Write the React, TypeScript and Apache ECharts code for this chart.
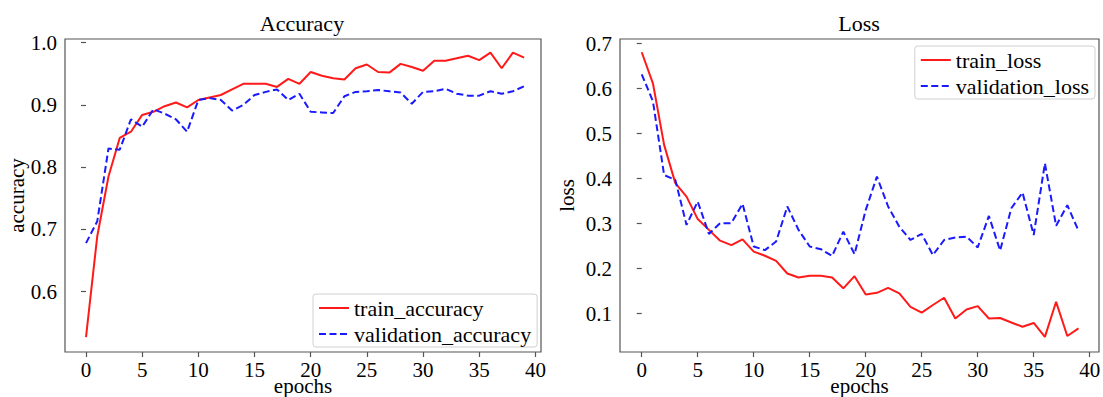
import React, { useEffect, useRef } from "react";
import * as echarts from "echarts";

const epochs = [0,1,2,3,4,5,6,7,8,9,10,11,12,13,14,15,16,17,18,19,20,21,22,23,24,25,26,27,28,29,30,31,32,33,34,35,36,37,38,39];

const trainAccuracy = [0.527,0.689,0.785,0.847,0.857,0.884,0.889,0.898,0.904,0.896,0.908,0.912,0.916,0.925,0.934,0.934,0.934,0.929,0.942,0.934,0.953,0.947,0.943,0.941,0.959,0.965,0.953,0.952,0.966,0.961,0.955,0.971,0.971,0.975,0.979,0.972,0.984,0.959,0.984,0.976];
const validationAccuracy = [0.678,0.713,0.830,0.828,0.877,0.865,0.893,0.886,0.877,0.857,0.908,0.911,0.908,0.891,0.900,0.916,0.921,0.925,0.908,0.918,0.889,0.888,0.887,0.914,0.921,0.922,0.924,0.922,0.920,0.902,0.921,0.922,0.926,0.918,0.915,0.915,0.922,0.918,0.922,0.930];

const trainLoss = [0.681,0.612,0.475,0.390,0.360,0.310,0.286,0.262,0.252,0.265,0.2375,0.2285,0.217,0.189,0.180,0.184,0.184,0.180,0.156,0.183,0.1425,0.146,0.157,0.145,0.115,0.102,0.119,0.135,0.089,0.109,0.1165,0.089,0.090,0.080,0.0705,0.079,0.048,0.126,0.050,0.067];
const validationLoss = [0.632,0.572,0.408,0.397,0.297,0.349,0.277,0.301,0.301,0.344,0.249,0.241,0.260,0.338,0.286,0.249,0.243,0.228,0.282,0.232,0.330,0.4045,0.338,0.293,0.2635,0.277,0.230,0.2635,0.269,0.271,0.247,0.317,0.240,0.334,0.369,0.2746,0.434,0.295,0.341,0.284];

const xTicks = [0,5,10,15,20,25,30,35,40];
const accTicks = [0.6,0.7,0.8,0.9,1.0];
const lossTicks = [0.1,0.2,0.3,0.4,0.5,0.6,0.7];

const FONT = "Liberation Serif";
const RED = "#ff1a1a";
const BLUE = "#1a1aff";
const FRAME = "#555555";
const TICK_FS = 21;
const NAME_FS = 21;
const TITLE_FS = 22;
const LEGEND_FS = 22;

function pairs(vals: number[]) {
  return epochs.map((e, i) => [e, vals[i]]);
}

function xAxisOpt(gridIndex: number, min: number, max: number) {
  return {
    type: "value",
    gridIndex,
    min,
    max,
    name: "epochs",
    nameLocation: "middle",
    nameGap: 23,
    nameMoveOverlap: false,
    nameTextStyle: { fontSize: NAME_FS, color: "#000", fontFamily: FONT, verticalAlign: "top" },
    axisLine: { show: false },
    splitLine: { show: false },
    axisTick: { show: true, length: 5, lineStyle: { color: FRAME, width: 1.2 }, customValues: xTicks },
    axisLabel: { fontSize: TICK_FS, color: "#000", fontFamily: FONT, margin: 7, customValues: xTicks, formatter: (v: number) => String(v) },
  };
}

function yAxisOpt(gridIndex: number, min: number, max: number, ticks: number[], name: string, nameGap: number) {
  return {
    type: "value",
    gridIndex,
    min,
    max,
    name,
    nameLocation: "middle",
    nameGap,
    nameRotate: 90,
    nameMoveOverlap: false,
    nameTextStyle: { fontSize: NAME_FS, color: "#000", fontFamily: FONT },
    axisLine: { show: false },
    splitLine: { show: false },
    axisTick: { show: true, length: 5, lineStyle: { color: FRAME, width: 1.2 }, customValues: ticks },
    axisLabel: { fontSize: TICK_FS, color: "#000", fontFamily: FONT, margin: 8, customValues: ticks, formatter: (v: number) => v.toFixed(1) },
  };
}

function lineSeries(name: string, vals: number[], color: string, dashed: boolean, idx: number) {
  return {
    type: "line",
    name,
    xAxisIndex: idx,
    yAxisIndex: idx,
    data: pairs(vals),
    symbol: "none",
    showSymbol: false,
    color,
    lineStyle: { color, width: 2, type: dashed ? [7, 3.5] : "solid" },
    itemStyle: { color },
    z: dashed ? 3 : 2,
  };
}

const legendCommon = {
  orient: "vertical",
  itemWidth: 30,
  itemHeight: 14,
  itemGap: 4,
  padding: [3, 6, 2, 5],
  backgroundColor: "#ffffff",
  borderColor: "#d0d0d0",
  borderWidth: 1,
  borderRadius: 3,
  textStyle: { fontSize: LEGEND_FS, color: "#000", fontFamily: FONT },
  itemStyle: { opacity: 0 },
  selectedMode: false,
};

export default function App() {
  const ref = useRef<HTMLDivElement>(null);
  useEffect(() => {
    if (!ref.current) return;
    const chart = echarts.init(ref.current, undefined, { renderer: "svg" });
    chart.setOption({
      animation: false,
      backgroundColor: "#ffffff",
      textStyle: { fontFamily: FONT },
      title: [
        { text: "Accuracy", left: 302, top: 12, padding: 0, textAlign: "center", textStyle: { fontSize: TITLE_FS, fontWeight: "normal", color: "#000", fontFamily: FONT } },
        { text: "Loss", left: 859, top: 12, padding: 0, textAlign: "center", textStyle: { fontSize: TITLE_FS, fontWeight: "normal", color: "#000", fontFamily: FONT } },
      ],
      grid: [
        { left: 65, right: 562, top: 39, bottom: 45, outerBoundsMode: "none", containLabel: false, show: true, borderColor: FRAME, borderWidth: 1.2, backgroundColor: "transparent" },
        { left: 620, right: 4, top: 39, bottom: 45, outerBoundsMode: "none", containLabel: false, show: true, borderColor: FRAME, borderWidth: 1.2, backgroundColor: "transparent" },
      ],
      xAxis: [xAxisOpt(0, -1.87, 40.5), xAxisOpt(1, -1.94, 40.83)],
      yAxis: [
        yAxisOpt(0, 0.503, 1.006, accTicks, "accuracy", 38),
        yAxisOpt(1, 0.0144, 0.7105, lossTicks, "loss", 43),
      ],
      legend: [
        { ...legendCommon, data: ["train_accuracy", "validation_accuracy"], left: 313, top: 294 },
        { ...legendCommon, data: ["train_loss", "validation_loss"], right: 8, top: 46 },
      ],
      series: [
        lineSeries("train_accuracy", trainAccuracy, RED, false, 0),
        lineSeries("validation_accuracy", validationAccuracy, BLUE, true, 0),
        lineSeries("train_loss", trainLoss, RED, false, 1),
        lineSeries("validation_loss", validationLoss, BLUE, true, 1),
      ],
    });
    return () => chart.dispose();
  }, []);
  return <div ref={ref} style={{ position: "fixed", left: 0, top: 0, width: 1103, height: 397 }} />;
}
